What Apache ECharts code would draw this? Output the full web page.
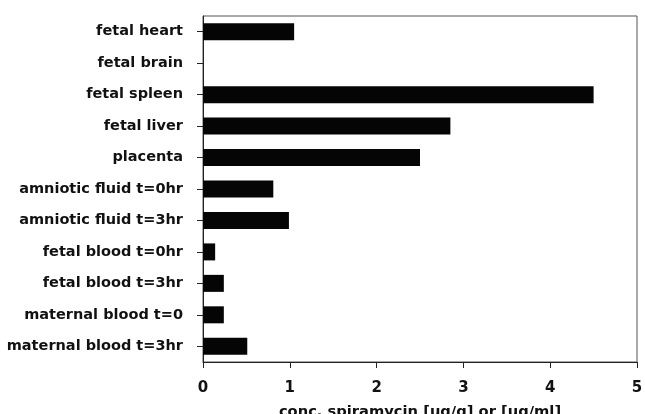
<!DOCTYPE html>
<html>
<head>
<meta charset="utf-8">
<script src="https://cdn.jsdelivr.net/npm/echarts@6/dist/echarts.min.js"></script>
<style>html,body{margin:0;padding:0;background:#fff;}#c{width:645px;height:414px;}</style>
</head>
<body>
<div id="c"></div>
<script>
const categories = ["fetal heart","fetal brain","fetal spleen","fetal liver","placenta","amniotic fluid t=0hr","amniotic fluid t=3hr","fetal blood t=0hr","fetal blood t=3hr","maternal blood t=0","maternal blood t=3hr"];
const values = [1.05, 0, 4.50, 2.85, 2.50, 0.81, 0.99, 0.14, 0.24, 0.24, 0.51];
const xTicks = [0, 1, 2, 3, 4, 5];
const xTitle = "conc. spiramycin [ug/g] or [ug/ml]";

const chart = echarts.init(document.getElementById('c'), null, {renderer: 'canvas'});
const font = "DejaVu Sans";
chart.setOption({
  animation: false,
  backgroundColor: '#fff',
  grid: {left: 203, right: 8, top: 16, bottom: 52, containLabel: false, outerBoundsMode: 'none',
         show: true, borderColor: '#555', borderWidth: 1, backgroundColor: 'transparent'},
  xAxis: {
    type: 'value', min: xTicks[0], max: xTicks[xTicks.length-1], interval: 1,
    axisLine: {show: true, lineStyle: {color: '#222', width: 1}},
    axisTick: {show: true, length: 6, inside: false, lineStyle: {color: '#222'}},
    splitLine: {show: false},
    axisLabel: {margin: 19, color: '#111', fontFamily: font, fontWeight: 'bold', fontSize: 15},
    name: xTitle, nameLocation: 'middle', nameGap: 43,
    nameTextStyle: {color: '#111', fontFamily: font, fontWeight: 'bold', fontSize: 14.7}
  },
  yAxis: {
    type: 'category', data: categories, inverse: true,
    axisLine: {show: true, lineStyle: {color: '#222', width: 1}},
    axisTick: {show: true, alignWithLabel: true, length: 6, lineStyle: {color: '#222'}},
    axisLabel: {margin: 20, color: '#111', fontFamily: font, fontWeight: 'bold', fontSize: 14.5},
    splitLine: {show: false}
  },
  series: [{
    type: 'bar', data: values, barWidth: 17,
    itemStyle: {color: '#050505'}
  }]
});
</script>
</body>
</html>
